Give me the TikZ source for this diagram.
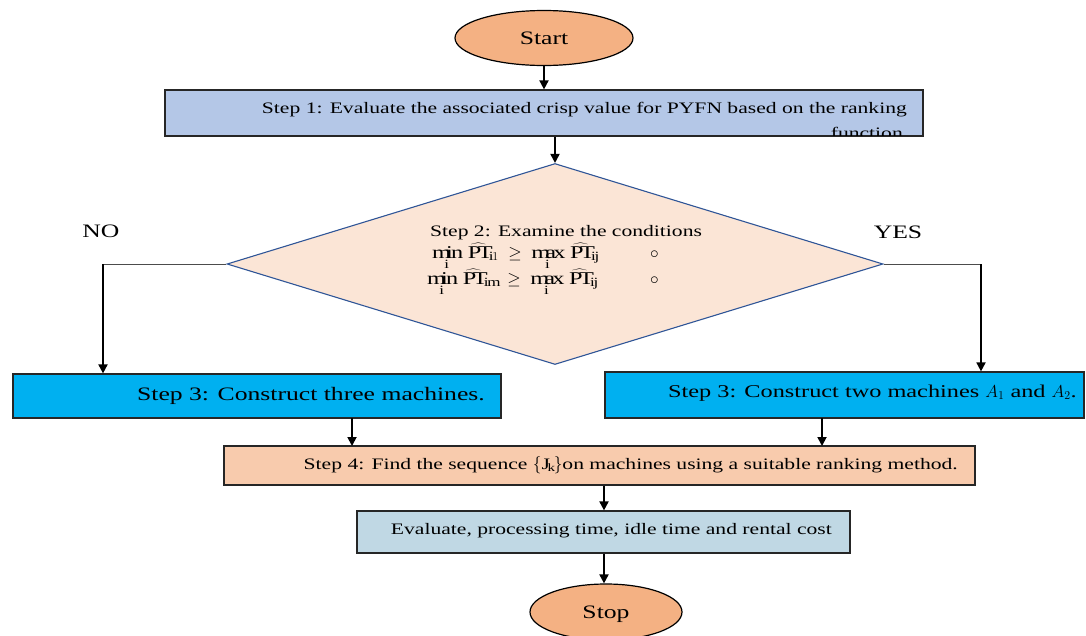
\documentclass[tikz,border=0pt]{standalone}
\usepackage{fontspec}
\setmainfont{Liberation Serif}[FakeStretch=1.35]
\usetikzlibrary{shapes.geometric,arrows.meta}
\definecolor{cStart}{HTML}{F4B183}
\definecolor{cStepA}{HTML}{B4C7E7}
\definecolor{cDia}{HTML}{FBE5D6}
\definecolor{cDiaB}{HTML}{2F5597}
\definecolor{cStepC}{HTML}{00B0F0}
\definecolor{cStepD}{HTML}{F8CBAD}
\definecolor{cEval}{HTML}{C0D8E4}
\newcommand\mylim[1]{\mathop{\mathrm{#1}}\limits_{\mathrm{i}}}
\tikzset{
  box/.style={draw=black!85, line width=1.2pt, rectangle, inner sep=0pt},
  term/.style={draw=black, line width=1.2pt, ellipse, fill=cStart, inner sep=0pt},
  arr/.style={line width=1.8pt, -{Triangle[length=9pt,width=9pt]}},
  thinln/.style={line width=0.9pt, draw=black!70},
  txt/.style={font=\fontsize{16}{24}\selectfont, inner sep=0pt},
  big/.style={font=\fontsize{19}{22}\selectfont, inner sep=0pt},
}
\begin{document}
\begin{tikzpicture}[x=1pt,y=-1pt]
\useasboundingbox (0,0) rectangle (1086,635);
% Start
\node[term, minimum width=178, minimum height=55] (start) at (544,38) {};
\node[big, anchor=base] (startt) at (544,44) {Start};
% Step 1
\node[box, fill=cStepA, minimum width=758, minimum height=46] (s1) at (544,113) {};
\begin{scope}
\clip (s1.south west) rectangle (s1.north east);
\node[txt, anchor=base east] (s1t) at (907,113) {Step 1: Evaluate the associated crisp value for PYFN based on the ranking};
\node[txt, anchor=base east] (s1u) at (903,138) {function};
\end{scope}
\draw[box, fill=none] (s1.south west) rectangle (s1.north east);
% Diamond
\node[diamond, draw=cDiaB, line width=1.1pt, fill=cDia, minimum width=656, minimum height=201, inner sep=0pt] (s2) at (555,264) {};
\node[txt, anchor=base west] (s2t) at (430,236) {Step 2: Examine the conditions};
\node[txt, font=\fontsize{18}{20}\selectfont, anchor=base west] (s2a) at (432,258) {\makebox[218pt][l]{$\mylim{min}\;\widehat{\mathrm{PT}}_{\mathrm{i}1}\;\geq\;\mylim{max}\;\widehat{\mathrm{PT}}_{\mathrm{ij}}$}$\circ$};
\node[txt, font=\fontsize{18}{20}\selectfont, anchor=base west] (s2b) at (427,284) {\makebox[223pt][l]{$\mylim{min}\;\widehat{\mathrm{PT}}_{\mathrm{im}}\;\geq\;\mylim{max}\;\widehat{\mathrm{PT}}_{\mathrm{ij}}$}$\circ$};
\node[big, anchor=base] (no) at (101,237) {NO};
\node[big, anchor=base] (yes) at (898,238) {YES};
% Step 3 boxes
\node[box, fill=cStepC, minimum width=488, minimum height=44] (s3a) at (257,396) {};
\node[big, anchor=base east] (s3at) at (485,400) {Step 3: Construct three machines.};
\node[box, fill=cStepC, minimum width=479, minimum height=46] (s3b) at (844.5,395) {};
\node[big, font=\fontsize{18}{22}\selectfont, anchor=base east] (s3bt) at (1077,397) {Step 3: Construct two machines $A_1$ and $A_2$.};
% Step 4
\node[box, fill=cStepD, minimum width=751, minimum height=39] (s4) at (599.5,465.5) {};
\node[txt, anchor=base east] (s4t) at (958,469) {Step 4: Find the sequence $\{\mathrm{J_k}\}$on machines using a suitable ranking method.};
% Evaluate
\node[box, fill=cEval, minimum width=493, minimum height=42] (ev) at (603.5,532) {};
\node[txt, anchor=base east] (evt) at (832,534) {Evaluate, processing time, idle time and rental cost};
% Stop
\node[term, minimum width=152, minimum height=56] (stop) at (606,612) {};
\node[big, anchor=base] (stopt) at (606,618) {Stop};
% connectors
\draw[arr] (start.south) -- (start.south |- s1.north);
\draw[arr] (s1.south -| s2.north) -- (s2.north);
\coordinate (nl) at (103,264);
\coordinate (nr) at (981,264);
\draw[thinln] (s2.west) -- (nl);
\draw[thinln] (s2.east) -- (nr);
\draw[arr] (nl) -- (nl |- s3a.north);
\draw[arr] (nr) -- (nr |- s3b.north);
\draw[arr] (352,418) -- (352,446);
\draw[arr] (822,418) -- (822,446);
\draw[arr] (s4.south -| 604,0) -- (ev.north -| 604,0);
\draw[arr] (ev.south -| 604,0) -- (stop.north -| 604,0);
\end{tikzpicture}
\end{document}
